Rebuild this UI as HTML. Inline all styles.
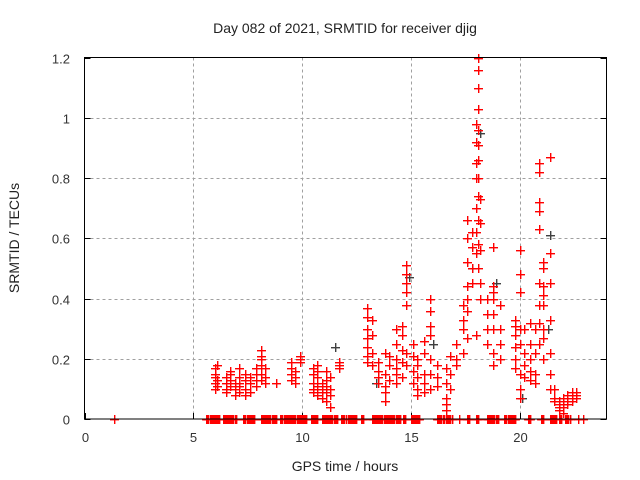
<!DOCTYPE html>
<html><head><meta charset="utf-8"><style>
body{margin:0;background:#fff;}
svg{display:block;font-family:"Liberation Sans",sans-serif;}
</style></head><body>
<svg id="chart" width="640" height="480">
<rect width="640" height="480" fill="#fff"/>
<text x="345" y="33" font-size="14" text-anchor="middle" fill="#222">Day 082 of 2021, SRMTID for receiver djig</text>
<text x="345" y="471" font-size="14" text-anchor="middle" fill="#222">GPS time / hours</text>
<text transform="translate(19,238) rotate(-90)" font-size="14" text-anchor="middle" fill="#222">SRMTID / TECUs</text>
<g id="grid"></g>
<g id="ticks"></g>
<g id="marks"></g>
<rect x="84.5" y="57.5" width="522" height="361.5" fill="none" style="stroke:#000" stroke-width="1"/>
</svg>
<script>
const xTicks=[0,5,10,15,20];
const yTicks=[0,0.2,0.4,0.6,0.8,1,1.2];
const yTickLabels=["0","0.2","0.4","0.6","0.8","1","1.2"];
const redHours=[6.0,6.0,6.0,6.0,6.0,6.1,6.1,6.1,6.5,6.5,6.5,6.5,6.7,6.7,6.7,6.7,6.9,6.9,6.9,7.1,7.1,7.1,7.1,7.1,7.4,7.4,7.4,7.4,7.6,7.6,7.6,7.9,7.9,7.9,7.9,8.1,8.1,8.1,8.1,8.1,8.1,8.3,8.3,8.3,8.8,
9.5,9.5,9.5,9.5,9.7,9.7,9.7,9.9,9.9,9.9,10.5,10.5,10.5,10.5,10.5,10.7,10.7,10.7,10.7,10.7,10.9,10.9,10.9,10.9,11.1,11.1,11.1,11.1,11.1,11.3,11.3,11.3,11.3,11.7,11.7,11.7,
13.0,13.0,13.0,13.0,13.0,13.0,13.0,13.2,13.2,13.2,13.2,13.5,13.5,13.5,13.5,13.8,13.8,13.8,13.8,13.8,14.0,14.0,14.0,14.3,14.3,14.3,14.3,14.3,14.3,14.6,14.6,14.6,14.6,14.6,14.8,14.8,14.8,14.8,14.8,14.8,14.8,
15.1,15.1,15.1,15.1,15.3,15.3,15.3,15.3,15.3,15.6,15.6,15.6,15.6,15.6,15.9,15.9,15.9,15.9,15.9,15.9,15.9,16.2,16.2,16.2,16.6,16.6,16.6,16.6,16.6,16.8,16.8,16.8,17.1,17.1,17.1,17.4,17.4,17.4,17.4,
17.6,17.6,17.6,17.6,17.6,17.6,17.6,17.8,17.8,17.8,17.8,18.0,18.0,18.0,18.0,18.0,18.0,18.0,18.0,18.1,18.1,18.1,18.1,18.1,18.1,18.1,18.1,18.1,18.1,18.1,18.1,18.2,18.2,18.2,18.2,18.2,
18.5,18.5,18.5,18.5,18.8,18.8,18.8,18.8,18.8,18.8,18.8,18.8,19.1,19.1,19.1,19.1,19.8,19.8,19.8,19.8,19.8,19.8,20.0,20.0,20.0,20.0,20.0,20.0,20.0,20.0,20.2,20.2,20.2,20.2,
20.5,20.5,20.5,20.5,20.5,20.7,20.7,20.7,20.7,20.9,20.9,20.9,20.9,20.9,20.9,20.9,20.9,20.9,21.1,21.1,21.1,21.1,21.1,21.1,21.1,21.1,21.4,21.4,21.4,21.4,21.4,21.4,21.4,
21.6,21.6,21.6,21.8,21.8,21.8,21.8,22.0,22.0,22.0,22.0,22.2,22.2,22.2,22.4,22.4,22.4,22.6,22.6,22.6];
const redValues=[0.17,0.15,0.12,0.10,0.14,0.18,0.13,0.11,0.14,0.12,0.10,0.09,0.16,0.13,0.11,0.15,0.10,0.08,0.12,0.14,0.17,0.12,0.09,0.11,0.13,0.10,0.08,0.15,0.12,0.09,0.14,0.15,0.13,0.17,0.11,0.20,0.23,0.18,0.15,0.13,0.21,0.17,0.12,0.14,0.12,
0.17,0.15,0.13,0.19,0.16,0.12,0.14,0.20,0.21,0.19,0.09,0.12,0.15,0.17,0.10,0.08,0.11,0.14,0.18,0.16,0.07,0.09,0.12,0.10,0.06,0.13,0.11,0.09,0.16,0.04,0.08,0.10,0.14,0.17,0.19,0.18,
0.37,0.34,0.30,0.27,0.24,0.21,0.19,0.33,0.28,0.22,0.18,0.16,0.14,0.12,0.19,0.09,0.06,0.11,0.15,0.22,0.13,0.18,0.21,0.25,0.20,0.15,0.30,0.17,0.12,0.28,0.23,0.19,0.14,0.31,0.51,0.48,0.45,0.42,0.38,0.22,0.18,
0.25,0.21,0.16,0.12,0.20,0.10,0.08,0.14,0.18,0.15,0.12,0.22,0.26,0.09,0.40,0.36,0.31,0.28,0.20,0.15,0.10,0.14,0.11,0.18,0.17,0.12,0.07,0.05,0.03,0.21,0.15,0.10,0.25,0.20,0.18,0.38,0.33,0.30,0.22,
0.66,0.60,0.52,0.44,0.40,0.36,0.27,0.62,0.57,0.50,0.45,0.98,0.92,0.85,0.80,0.70,0.62,0.55,0.28,1.20,1.16,1.10,1.03,0.96,0.91,0.86,0.80,0.74,0.66,0.58,0.50,0.73,0.65,0.56,0.45,0.40,
0.40,0.35,0.30,0.25,0.57,0.44,0.42,0.40,0.35,0.30,0.22,0.18,0.38,0.30,0.25,0.20,0.33,0.31,0.28,0.24,0.20,0.17,0.56,0.48,0.42,0.30,0.25,0.15,0.10,0.07,0.30,0.22,0.18,0.14,
0.32,0.25,0.20,0.16,0.13,0.30,0.22,0.15,0.12,0.85,0.82,0.72,0.69,0.63,0.45,0.38,0.32,0.25,0.52,0.50,0.44,0.41,0.38,0.30,0.27,0.20,0.87,0.55,0.45,0.33,0.22,0.15,0.10,
0.10,0.07,0.06,0.05,0.03,0.04,0.06,0.07,0.04,0.02,0.05,0.08,0.06,0.05,0.07,0.09,0.06,0.09,0.08,0.07];
const blackHours=[18.2,21.4,21.3,11.5,14.9,17.8,20.1,13.4,16.0,18.9];
const blackValues=[0.95,0.61,0.30,0.24,0.47,0.50,0.07,0.12,0.25,0.45];
const zeroHours=[1.35,5.6,5.65,5.7,5.75,5.8,5.85,5.9,5.95,6.0,6.05,6.1,6.15,6.2,6.35,6.4,6.45,6.5,6.55,6.6,6.65,6.7,6.75,6.8,6.85,6.9,6.95,7.3,7.35,7.4,7.45,7.5,7.55,7.6,7.65,7.7,7.75,7.8,8.1,8.15,8.2,8.25,8.3,8.35,8.4,8.45,8.5,8.55,8.6,8.65,8.7,8.75,8.8,9.0,9.05,9.1,9.15,9.2,9.25,9.3,9.35,9.4,9.45,9.5,9.55,9.6,9.65,9.7,9.75,9.8,9.85,9.9,9.95,10.0,10.05,10.1,10.15,10.2,10.4,10.45,10.5,10.55,10.6,10.65,10.7,10.9,10.95,11.0,11.05,11.1,11.15,11.2,11.25,11.3,11.35,11.4,11.45,11.5,11.55,11.6,11.8,11.85,11.9,11.95,12.0,12.1,12.15,12.2,12.25,12.3,12.35,12.4,12.45,12.5,12.7,12.75,12.8,13.2,13.25,13.3,13.35,13.4,13.45,13.5,13.55,13.6,13.65,13.7,13.75,13.8,13.85,13.9,13.95,14.0,14.05,14.1,14.15,14.2,14.25,14.3,14.35,14.4,14.45,14.5,14.65,14.7,14.75,15.0,15.05,15.1,15.15,15.2,15.25,15.3,15.35,15.4,16.2,16.25,16.3,16.35,16.4,16.5,16.55,16.6,16.65,16.7,16.75,16.8,16.9,17.2,17.6,17.65,17.7,18.0,18.05,18.1,18.5,18.55,18.6,18.65,18.7,18.75,18.8,18.85,18.9,18.95,19.0,19.3,19.35,19.4,19.45,19.5,19.55,19.6,19.65,19.7,19.75,19.8,20.4,20.45,20.5,21.0,21.05,21.1,21.4,21.45,21.5,21.55,21.6,21.65,21.7,21.8,21.85,21.9,22.1,22.15,22.2,22.25,22.3,22.7,22.9];
const SVGNS="http://www.w3.org/2000/svg";
const L=84.5,R=606.5,T=57.5,B=419;
function xs(h){return L+(h/24)*(R-L);}
function ys(v){return B-(v/1.2)*(B-T);}
const grid=document.getElementById('grid'),ticks=document.getElementById('ticks'),marks=document.getElementById('marks');
function mk(tag,attrs,parent){const e=document.createElementNS(SVGNS,tag);for(const k in attrs)e.setAttribute(k,attrs[k]);parent.appendChild(e);return e;}
xTicks.forEach((t,i)=>{
  const x=Math.round(xs(t))+0.5;
  if(t>0){const g=mk('line',{x1:x,x2:x,y1:T,y2:B,style:'stroke:#a0a0a0','stroke-dasharray':'3,3'},grid);
  
  }
  const tk=mk('line',{x1:x,x2:x,y1:B,y2:B-6,style:'stroke:#000'},ticks);
  
  
  const tx=mk('text',{x:x,y:442,'font-size':13,'text-anchor':'middle',fill:'#333'},ticks);
  tx.textContent=String(t);
  
  
});
yTicks.forEach((t,i)=>{
  const y=Math.round(ys(t))+0.5;
  if(t>0&&t<1.2){const g=mk('line',{x1:L,x2:R,y1:y,y2:y,style:'stroke:#a0a0a0','stroke-dasharray':'3,3'},grid);
  
  }
  const tk=mk('line',{x1:L,x2:L+6,y1:y,y2:y,style:'stroke:#000'},ticks);
  
  
  const tk2=mk('line',{x1:R,x2:R-6,y1:y,y2:y,style:'stroke:#000'},ticks);
  
  
  const tx=mk('text',{x:70,y:y+5,'font-size':13,'text-anchor':'end',fill:'#333'},ticks);
  tx.textContent=yTickLabels[i];
  
  
});
function plus(h,v,color,name){
  const x=Math.round(xs(h)),y=Math.round(ys(v));
  const g=mk('g',{style:'fill:'+color},marks);
  mk('rect',{x:x-4,y:y,width:9,height:1.4},g);
  mk('rect',{x:x,y:y-4,width:1.4,height:9},g);
  
  
}
blackHours.forEach((h,i)=>plus(h,blackValues[i],'#404040','black-point'));
redHours.forEach((h,i)=>plus(h,redValues[i],'#ff0000','red-point'));
zeroHours.forEach(h=>plus(h,0,'#ff0000','zero-point'));
</script>
</body></html>
